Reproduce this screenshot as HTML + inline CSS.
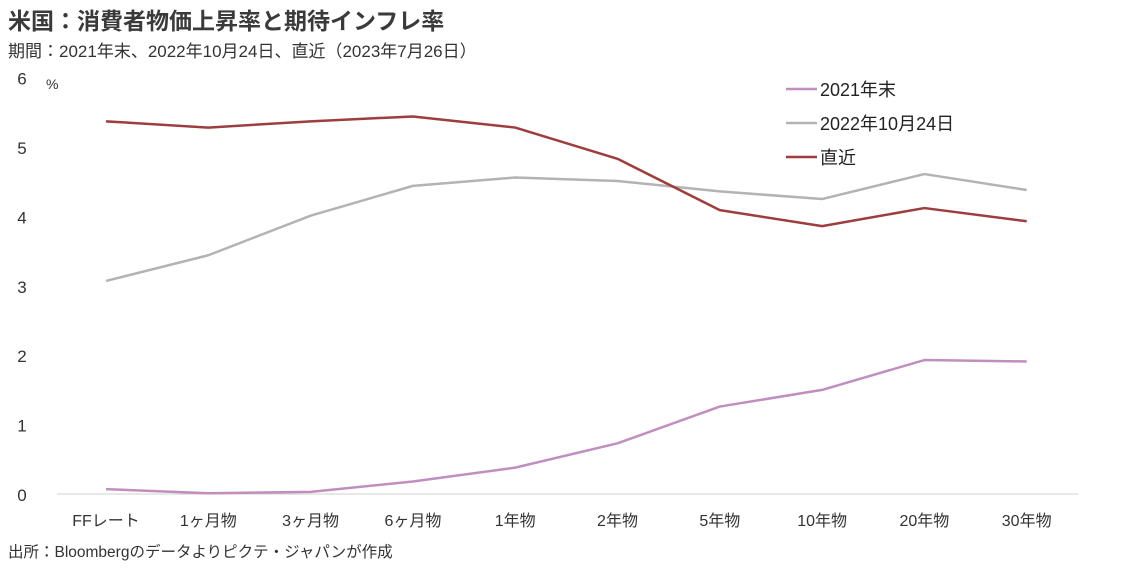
<!DOCTYPE html>
<html><head><meta charset="utf-8"><style>
body{margin:0;background:#fff;width:1127px;height:577px;overflow:hidden;font-family:"Liberation Sans","Noto Sans CJK JP",sans-serif;color:#222}
svg text{font-family:"Liberation Sans","Noto Sans CJK JP",sans-serif}
</style></head><body>
<svg id="chart" width="1127" height="577" xmlns="http://www.w3.org/2000/svg">
<text x="8" y="29" font-size="23" font-weight="bold" fill="#3a3a3a">米国：消費者物価上昇率と期待インフレ率</text>
<text x="8" y="57" font-size="17" fill="#333">期間：2021年末、2022年10月24日、直近（2023年7月26日）</text>
<text x="46" y="89" font-size="14" fill="#333">%</text>
<text x="8" y="557" font-size="15.5" fill="#333">出所：Bloombergのデータよりピクテ・ジャパンが作成</text>
<g id="axes"></g><g id="series"></g><g id="legend"></g>
</svg>
<script>
const categories=["FFレート","1ヶ月物","3ヶ月物","6ヶ月物","1年物","2年物","5年物","10年物","20年物","30年物"];
const s2021=[0.07,0.01,0.03,0.18,0.38,0.73,1.26,1.50,1.93,1.91];
const s2022=[3.07,3.44,4.01,4.44,4.56,4.51,4.36,4.25,4.61,4.38];
const sRecent=[5.37,5.28,5.37,5.44,5.28,4.83,4.09,3.86,4.12,3.93];
const yTicks=[0,1,2,3,4,5,6];
const seriesNames=["2021年末","2022年10月24日","直近"];
const NS="http://www.w3.org/2000/svg";
const y=v=>494-v*69.4;
const x=i=>106+i*102.3;
function mk(t,a,p){const e=document.createElementNS(NS,t);for(const k in a)e.setAttribute(k,a[k]);p.appendChild(e);return e;}
const axes=document.getElementById('axes');
const ax=mk('line',{x1:57,x2:1078,y1:494,y2:494,stroke:'#d0d0d0','stroke-width':1},axes);


yTicks.forEach(t=>{const e=mk('text',{x:22,y:y(t)+7,'font-size':17,'text-anchor':'middle',fill:'#333'},axes);e.textContent=t;

});
categories.forEach((c,i)=>{const e=mk('text',{x:x(i),y:526,'font-size':16,'text-anchor':'middle',fill:'#333'},axes);e.textContent=c;

});
const colors=['#c08ebf','#b3b3b3','#9e3d3d'];
const data=[s2021,s2022,sRecent];
const sg=document.getElementById('series');
data.forEach((d,k)=>{const p=mk('polyline',{points:d.map((v,i)=>x(i)+','+y(v)).join(' '),fill:'none',stroke:colors[k],'stroke-width':2.5,'stroke-linejoin':'round'},sg);

});
const lg=document.getElementById('legend');
seriesNames.forEach((n,k)=>{const yy=89+k*34;
const l=mk('line',{x1:786,x2:817,y1:yy,y2:yy,stroke:colors[k],'stroke-width':2.5},lg);


const t=mk('text',{x:820,y:yy+7,'font-size':18,fill:'#222'},lg);t.textContent=n;

});
</script>
</body></html>
